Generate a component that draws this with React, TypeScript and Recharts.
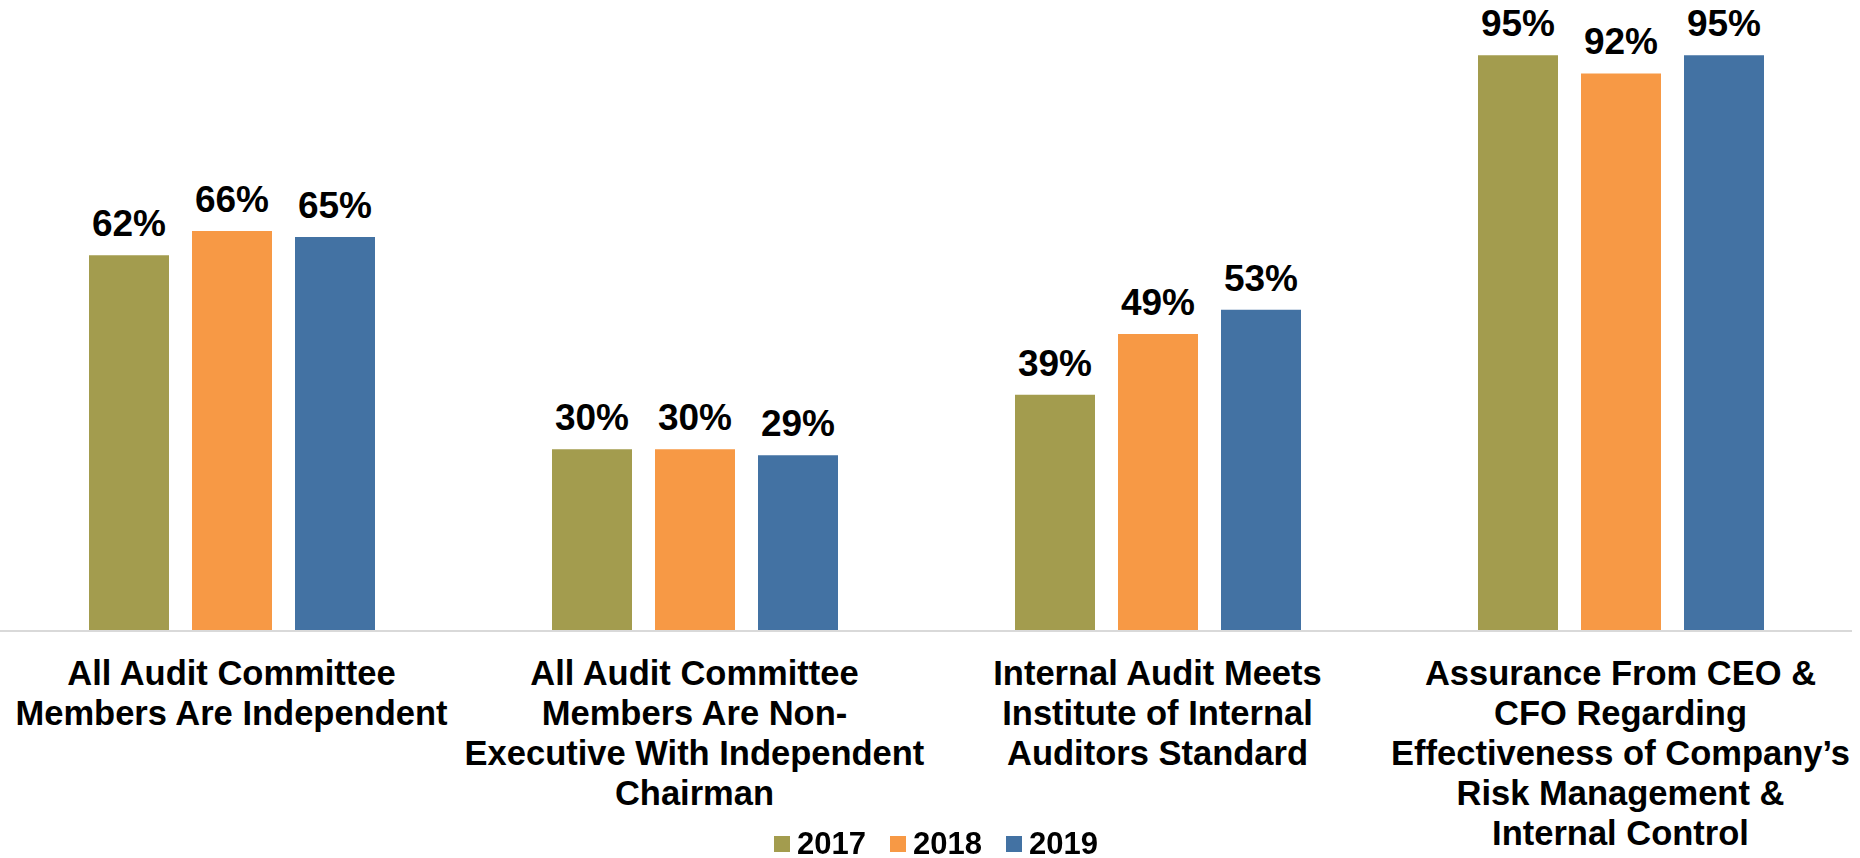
import { BarChart, Bar, XAxis, YAxis, Legend, LabelList } from 'recharts';

const categories = [
    'All Audit Committee Members Are Independent',
    'All Audit Committee Members Are Non-Executive With Independent Chairman',
    'Internal Audit Meets Institute of Internal Auditors Standard',
    'Assurance From CEO & CFO Regarding Effectiveness of Company’s Risk Management & Internal Control',
];

// tick labels, broken the way the original wraps them
const tickLines = [
    ['All Audit Committee', 'Members Are Independent'],
    ['All Audit Committee', 'Members Are Non-', 'Executive With Independent', 'Chairman'],
    ['Internal Audit Meets', 'Institute of Internal', 'Auditors Standard'],
    ['Assurance From CEO &', 'CFO Regarding', 'Effectiveness of Company’s', 'Risk Management &', 'Internal Control'],
];

const years = ['2017', '2018', '2019'];
const values2017 = [62, 30, 39, 95];
const values2018 = [66, 30, 49, 92];
const values2019 = [65, 29, 53, 95];

const colors: Record<string, string> = {
    '2017': '#A39C4E',
    '2018': '#F79945',
    '2019': '#4372A3',
};

const data = categories.map((name, i) => ({
    name,
    '2017': values2017[i],
    '2018': values2018[i],
    '2019': values2019[i],
}));

const FONT = '"Liberation Sans", Arial, sans-serif';

function CategoryTick({ x, y, payload }: any) {
    const lines = tickLines[payload.index] || [payload.value];
    return (
        <text x={x} y={y} textAnchor="middle" fill="#000" fontFamily={FONT} fontSize={34.5} fontWeight="bold">
            {lines.map((line, i) => (
                <tspan key={i} x={x} dy={i === 0 ? 54 : 40}>{line}</tspan>
            ))}
        </text>
    );
}

function YearLegend() {
    return (
        <div style={{ display: 'flex', alignItems: 'center', height: 30, fontFamily: FONT, fontSize: 31, fontWeight: 'bold', lineHeight: '30px', color: '#000' }}>
            {years.map((year) => (
                <div key={year} style={{ display: 'flex', alignItems: 'center', marginRight: 24 }}>
                    <span style={{ display: 'inline-block', width: 16, height: 16, background: colors[year], marginRight: 7 }} />
                    <span>{year}</span>
                </div>
            ))}
        </div>
    );
}

function App() {
    return (
        <div style={{ position: 'fixed', left: 0, top: 0, width: 1860, height: 858, background: '#fff' }}>
            <BarChart
                width={1860}
                height={858}
                data={data}
                barSize={80}
                barGap={23}
                margin={{ top: 25, right: 8, left: 0, bottom: 0 }}
            >
                <XAxis
                    dataKey="name"
                    interval={0}
                    tickLine={false}
                    tickSize={0}
                    tickMargin={0}
                    height={197}
                    axisLine={{ stroke: '#D9D9D9', strokeWidth: 2 }}
                    tick={<CategoryTick />}
                />
                <YAxis hide domain={[0, 100]} />
                <Legend
                    height={30}
                    content={<YearLegend />}
                    wrapperStyle={{ left: 774, top: 829, width: 360, height: 30 }}
                />
                {years.map((year) => (
                    <Bar key={year} dataKey={year} fill={colors[year]} isAnimationActive={false}>
                        <LabelList
                            dataKey={year}
                            position="top"
                            offset={19}
                            formatter={(v: any) => `${v}%`}
                            fill="#000"
                            fontFamily={FONT}
                            fontSize={37}
                            fontWeight="bold"
                        />
                    </Bar>
                ))}
            </BarChart>
        </div>
    );
}

export default App;
